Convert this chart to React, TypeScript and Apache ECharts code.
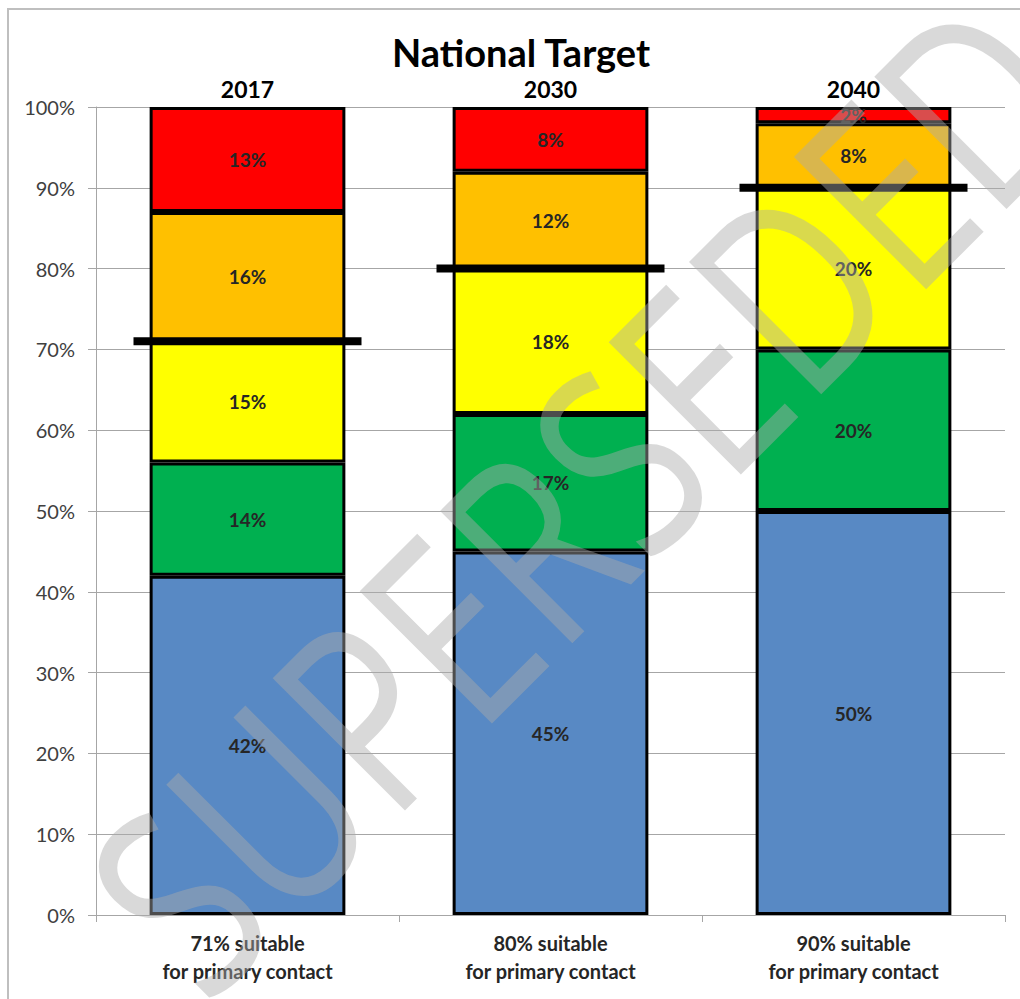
import React, { useEffect, useRef } from "react";
import * as echarts from "echarts";

const years = ["2017", "2030", "2040"];
const categories = [
  "71% suitable\nfor primary contact",
  "80% suitable\nfor primary contact",
  "90% suitable\nfor primary contact",
];
const blueVals = [42, 45, 50];
const greenVals = [14, 17, 20];
const yellowVals = [15, 18, 20];
const orangeVals = [16, 12, 8];
const redVals = [13, 8, 2];
const targets = [71, 80, 90];
const yTicks = [0, 10, 20, 30, 40, 50, 60, 70, 80, 90, 100];

const FONT = "Lato, 'Open Sans', sans-serif";

export default function App() {
  const ref = useRef<HTMLDivElement>(null);
  useEffect(() => {
    if (!ref.current) return;
    const chart = echarts.init(ref.current, undefined, { renderer: "svg" });
    const mkBar = (name: string, data: number[], color: string) => ({
      name,
      type: "bar",
      stack: "total",
      data,
      barWidth: "64.6%",
      itemStyle: { color, borderColor: "#000", borderWidth: 3 },
      label: {
        show: true,
        position: "inside",
        formatter: (p: any) => p.value + "%",
        fontFamily: FONT,
        fontWeight: "bold",
        fontSize: 19,
        color: "#262626",
      },
    });
    chart.setOption({
      animation: false,
      backgroundColor: "#fff",
      textStyle: { fontFamily: FONT },
      grid: { left: 96, right: 15, top: 107, bottom: 84 },
      xAxis: [
        {
          type: "category",
          data: categories,
          position: "bottom",
          axisLine: { lineStyle: { color: "#a6a6a6", width: 1 } },
          axisTick: { show: true, length: 7, lineStyle: { color: "#a6a6a6" } },
          axisLabel: {
            fontFamily: FONT,
            fontSize: 20,
            fontWeight: "bold",
            color: "#262626",
            lineHeight: 28,
            margin: 14,
          },
        },
        {
          type: "category",
          data: years,
          position: "top",
          axisLine: { show: false },
          axisTick: { show: false },
          axisLabel: {
            fontFamily: FONT,
            fontSize: 23,
            fontWeight: "bold",
            color: "#000",
            margin: 7,
          },
        },
      ],
      yAxis: {
        type: "value",
        min: 0,
        max: 100,
        interval: 10,
        axisLine: { show: true, lineStyle: { color: "#a6a6a6" } },
        axisTick: { show: true, length: 8, lineStyle: { color: "#a6a6a6" } },
        splitLine: { show: true, lineStyle: { color: "#a6a6a6", width: 1 } },
        axisLabel: {
          formatter: (v: number) => (yTicks.includes(v) ? v + "%" : ""),
          fontFamily: FONT,
          fontSize: 20,
          color: "#404040",
          margin: 21,
        },
      },
      series: [
        mkBar("Blue", blueVals, "#5889C4"),
        mkBar("Green", greenVals, "#00B050"),
        mkBar("Yellow", yellowVals, "#FFFF00"),
        mkBar("Orange", orangeVals, "#FFC000"),
        mkBar("Red", redVals, "#FF0000"),
        {
          name: "Target",
          type: "scatter",
          data: targets.map((t, i) => [i, t]),
          symbol: "rect",
          symbolSize: [228, 8],
          itemStyle: { color: "#000", opacity: 1 },
          z: 5,
        },
      ],
      graphic: [
        {
          type: "rect",
          shape: { x: 8, y: 9, width: 1040, height: 1020 },
          style: { fill: "none", stroke: "#bfbfbf", lineWidth: 2 },
          z: 0,
          silent: true,
        },
        {
          type: "text",
          x: 521,
          y: 52,
          style: {
            text: "National Target",
            fontFamily: FONT,
            fontSize: 38,
            fontWeight: "bold",
            fill: "#000",
            textAlign: "center",
            textVerticalAlign: "middle",
          },
        },
        {
          type: "text",
          x: 580,
          y: 492,
          rotation: Math.PI / 4,
          scaleX: 0.78,
          scaleY: 1,
          style: {
            text: "SUPERSEDED",
            fontFamily: "'Open Sans', Lato, sans-serif",
            fontSize: 262,
            fontWeight: "normal",
            fill: "rgba(170,170,170,0.45)",
            textAlign: "center",
            textVerticalAlign: "middle",
          },
          z: 100,
          silent: true,
        },
      ],
    });
    return () => chart.dispose();
  }, []);
  return (
    <div
      ref={ref}
      style={{ position: "absolute", left: 0, top: 0, width: 1020, height: 999 }}
    />
  );
}
